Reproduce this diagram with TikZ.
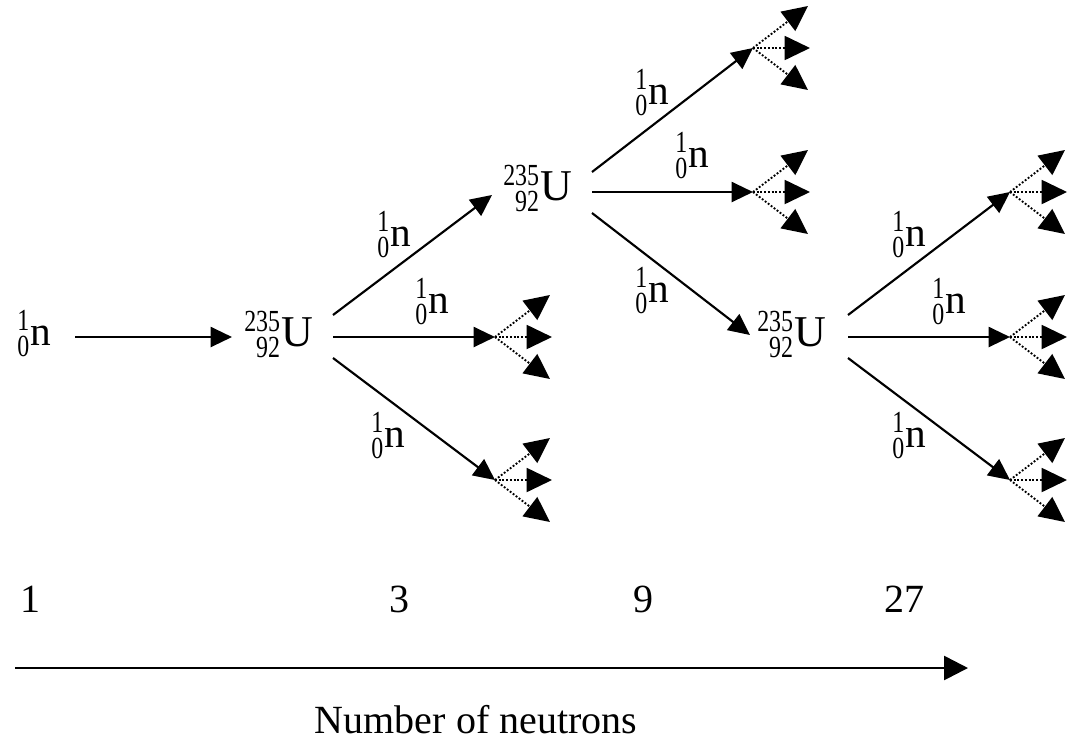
\documentclass[tikz,border=0pt]{standalone}
\usepackage{fontspec}
\setmainfont{Liberation Serif}
\usepackage{graphicx}
\usetikzlibrary{arrows.meta}

% small, slightly condensed digits for mass and atomic numbers
\newcommand\scr[1]{\scalebox{0.78}[1]{\fontsize{23}{23}\selectfont #1}}
% nuclide symbol: mass number over atomic number, both right-aligned before the symbol
\newcommand\nuc[3]{\mbox{\sbox0{\scr{#1}}\sbox2{\scr{#2}}%
  \ifdim\wd0>\wd2 \dimen0=\wd0 \else \dimen0=\wd2 \fi
  \makebox[\dimen0][r]{\raisebox{11pt}{\usebox0}}\llap{\raisebox{-8.5pt}{\usebox2}}\kern1pt #3}}
\newcommand\neutron{\nuc{1}{0}{n}}
\newcommand\uranium{\nuc{235}{92}{U}}

\begin{document}
\begin{tikzpicture}[x=0.75pt,y=-0.75pt,
  lbl/.style={anchor=base west, inner sep=0pt, font=\fontsize{31}{31}\selectfont},
  nucl/.style={anchor=base west, inner sep=0pt, font=\fontsize{33}{33}\selectfont},
  num/.style={anchor=base west, inner sep=0pt, font=\fontsize{30}{30}\selectfont},
  arr/.style={line width=1.6pt, -{Triangle[length=16pt,width=15pt]}},
  fan/.style={line width=1.4pt, dash pattern=on 1.4pt off 1.4pt, -{Triangle[length=19pt,width=18pt]}},
  axis/.style={line width=2pt, -{Triangle[length=18pt,width=18pt]}}]

\useasboundingbox (0,0) rectangle (1074,744);

% three-way split of a neutron into further branches
\newcommand\fanout[1]{%
  \path (#1) ++(55,-42) coordinate (#1-a);
  \path (#1) ++(57,0) coordinate (#1-b);
  \path (#1) ++(55,42) coordinate (#1-c);
  \draw[fan] (#1) -- (#1-a);
  \draw[fan] (#1) -- (#1-b);
  \draw[fan] (#1) -- (#1-c);}

% nuclei
\node[lbl]  (n0) at (17,345)  {\neutron};
\node[nucl] (u1) at (244,346) {\uranium};
\node[nucl] (u2) at (503,200) {\uranium};
\node[nucl] (u3) at (757,346) {\uranium};

% arrow ends
\coordinate (n0o) at (75,337);
\coordinate (u1i) at (232,337);
\coordinate (u1o1) at (333,315);
\coordinate (u1o2) at (333,337);
\coordinate (u1o3) at (333,358);
\coordinate (u2i) at (492,195);
\coordinate (u2o1) at (592,172);
\coordinate (u2o2) at (592,192);
\coordinate (u2o3) at (592,213);
\coordinate (u3i) at (750,335);
\coordinate (u3o1) at (848,315);
\coordinate (u3o2) at (848,337);
\coordinate (u3o3) at (848,358);

% branch points
\coordinate (f1) at (495,337);
\coordinate (f2) at (495,480);
\coordinate (f3) at (753,48);
\coordinate (f4) at (753,192);
\coordinate (f5) at (1010,192);
\coordinate (f6) at (1010,337);
\coordinate (f7) at (1010,480);

% neutron paths
\draw[arr] (n0o) -- (u1i);
\draw[arr] (u1o1) -- (u2i);
\draw[arr] (u1o2) -- (f1);
\draw[arr] (u1o3) -- (f2);
\draw[arr] (u2o1) -- (f3);
\draw[arr] (u2o2) -- (f4);
\draw[arr] (u2o3) -- (u3i);
\draw[arr] (u3o1) -- (f5);
\draw[arr] (u3o2) -- (f6);
\draw[arr] (u3o3) -- (f7);

\fanout{f1}\fanout{f2}\fanout{f3}\fanout{f4}\fanout{f5}\fanout{f6}\fanout{f7}

% neutron labels on the paths
\node[lbl] (l1) at (377,246) {\neutron};
\node[lbl] (l2) at (415,313) {\neutron};
\node[lbl] (l3) at (371,447) {\neutron};
\node[lbl] (l4) at (635,104) {\neutron};
\node[lbl] (l5) at (675,167) {\neutron};
\node[lbl] (l6) at (635,302) {\neutron};
\node[lbl] (l7) at (892,246) {\neutron};
\node[lbl] (l8) at (932,313) {\neutron};
\node[lbl] (l9) at (892,447) {\neutron};

% neutron counts
\node[num] (c1) at (20,612)  {1};
\node[num] (c2) at (389,612) {3};
\node[num] (c3) at (633,612) {9};
\node[num] (c4) at (884,612) {27};

% axis
\coordinate (ax0) at (15,668);
\coordinate (ax1) at (968,668);
\draw[axis] (ax0) -- (ax1);
\node[num, anchor=base] (ttl) at (476,733) {Number of neutrons};
\end{tikzpicture}
\end{document}
